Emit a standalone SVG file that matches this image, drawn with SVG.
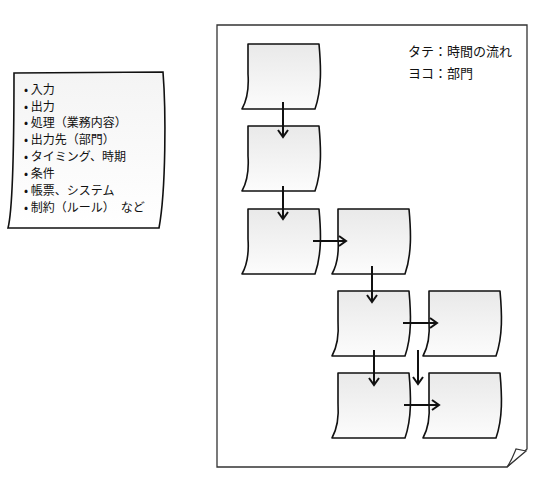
<svg xmlns="http://www.w3.org/2000/svg" width="533" height="490" viewBox="0 0 533 490">
<style>
.t{font-family:"Noto Sans CJK JP","Noto Sans",sans-serif;fill:#111}
.card{fill:url(#g);stroke:#111;stroke-width:1.6;stroke-linejoin:round}
.arr{stroke:#111;stroke-width:2;fill:none;marker-end:url(#ah)}
</style>
<defs>
<linearGradient id="g" x1="0" y1="0" x2="0" y2="1">
<stop offset="0" stop-color="#e9e9e9"/>
<stop offset="1" stop-color="#fcfcfc"/>
</linearGradient>
<linearGradient id="g2" x1="0" y1="0" x2="0" y2="1">
<stop offset="0" stop-color="#f4f4f4"/>
<stop offset="1" stop-color="#ffffff"/>
</linearGradient>
<path id="cs" d="M0,0 L71,0 C73,22 74,45 67,65 L-6,65 C-1,56 1,44 0,30 Z"/>
<marker id="ah" markerWidth="10" markerHeight="12" refX="8" refY="6" orient="auto" markerUnits="userSpaceOnUse">
<path d="M1,1 L8,6 L1,11" fill="none" stroke="#111" stroke-width="2"/>
</marker>
</defs>
<rect width="533" height="490" fill="#fff"/>
<g id="list">
<path d="M14,73 L163,72 C166,110 166,190 159,228 L8,228 C14,205 14,120 14,73 Z" fill="url(#g2)" stroke="#111" stroke-width="1.6"/>
<g class="t" font-size="12">
<text x="24" y="94">• 入力</text>
<text x="24" y="111">• 出力</text>
<text x="24" y="127">• 処理（業務内容）</text>
<text x="24" y="144">• 出力先（部門）</text>
<text x="24" y="161">• タイミング、時期</text>
<text x="24" y="178">• 条件</text>
<text x="24" y="195">• 帳票、システム</text>
<text x="24" y="212">• 制約（ルール）　など</text>
</g>
</g>
<g id="page">
<path d="M217,25 L527,25 L527,449 L507,467 L217,467 Z" fill="#fff" stroke="#333" stroke-width="1.3"/>
<path d="M507,467 C512,460 514,454 516,449 L526,451 Z" fill="#fff" stroke="#333" stroke-width="1.2"/>
<text class="t" x="408" y="56" font-size="13">タテ：時間の流れ</text>
<text class="t" x="408" y="78" font-size="13">ヨコ：部門</text>
</g>
<g id="c1"><use href="#cs" class="card" transform="translate(248,44)"/></g>
<g id="c2"><use href="#cs" class="card" transform="translate(248,126)"/></g>
<g id="c3"><use href="#cs" class="card" transform="translate(248,209)"/></g>
<g id="c4"><use href="#cs" class="card" transform="translate(338,209)"/></g>
<g id="c5"><use href="#cs" class="card" transform="translate(338,291)"/></g>
<g id="c6"><use href="#cs" class="card" transform="translate(429,291)"/></g>
<g id="c7"><use href="#cs" class="card" transform="translate(338,373)"/></g>
<g id="c8"><use href="#cs" class="card" transform="translate(429,373)"/></g>
<g id="connectors">
<path class="arr" d="M283,102 L283,137"/>
<path class="arr" d="M283,186 L283,219"/>
<path class="arr" d="M313,241 L346,241"/>
<path class="arr" d="M372,266 L372,302"/>
<path class="arr" d="M403,323 L437,323"/>
<path class="arr" d="M374,350 L374,385"/>
<path class="arr" d="M418,350 L418,384"/>
<path class="arr" d="M404,405 L439,405"/>
</g>
</svg>
